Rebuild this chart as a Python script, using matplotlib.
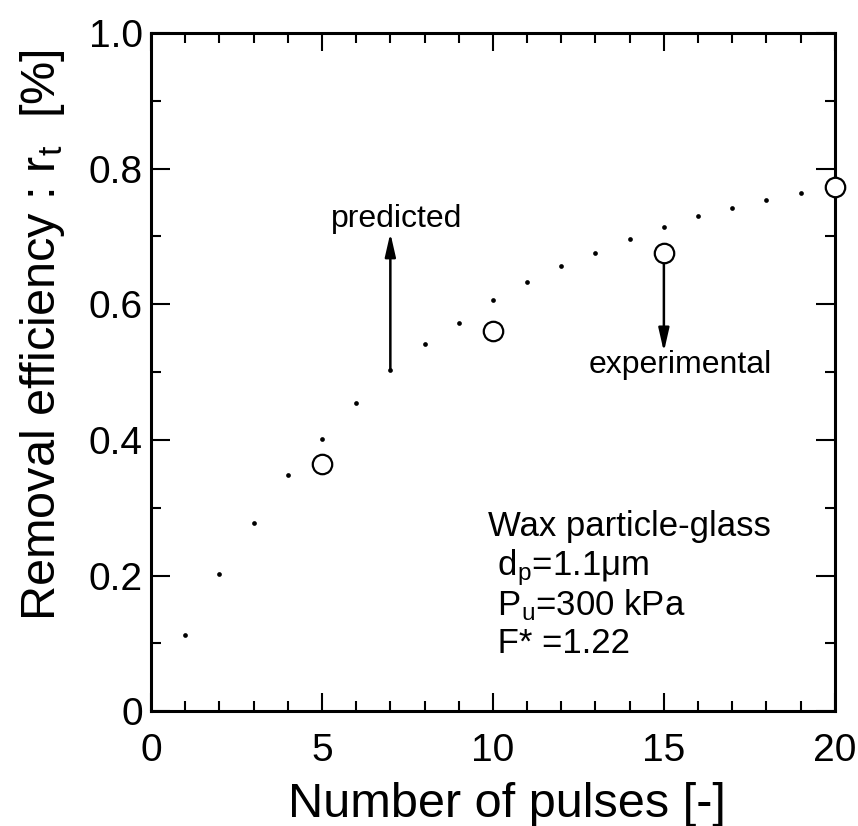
import matplotlib
matplotlib.use("Agg")
import matplotlib.pyplot as plt
from matplotlib.ticker import MultipleLocator

plt.rcParams['font.family'] = ['Liberation Sans', 'DejaVu Sans']
plt.rcParams['mathtext.default'] = 'regular'

# Data
pred_x = list(range(1, 20))
pred_y = [0.112, 0.203, 0.278, 0.348, 0.402, 0.455, 0.503, 0.542, 0.573, 0.606,
          0.633, 0.657, 0.676, 0.696, 0.714, 0.730, 0.742, 0.754, 0.764]
exp_x = [5, 10, 15, 20]
exp_y = [0.364, 0.561, 0.676, 0.773]

xlabel = "Number of pulses [-]"
ylabel = "Removal efficiency : r$_t$  [%]"
info_lines = ["Wax particle-glass", " d$_p$=1.1\u03bcm", " P$_u$=300 kPa", " F* =1.22"]

fig = plt.figure(figsize=(8.58, 8.26), dpi=100)
ax = fig.add_axes([0.176, 0.139, 0.797, 0.821])

ax.plot(pred_x, pred_y, linestyle='none', marker='o', markersize=3.4,
        color='black', markeredgewidth=0)
ax.plot(exp_x, exp_y, linestyle='none', marker='o', markersize=14,
        markerfacecolor='white', markeredgecolor='black', markeredgewidth=1.6,
        clip_on=False, zorder=5)

ax.set_xlim(0, 20)
ax.set_ylim(0, 1.0)
ax.xaxis.set_major_locator(MultipleLocator(5))
ax.xaxis.set_minor_locator(MultipleLocator(1))
ax.yaxis.set_minor_locator(MultipleLocator(0.1))
ax.set_yticks([0, 0.2, 0.4, 0.6, 0.8, 1.0])
ax.set_yticklabels(['0', '0.2', '0.4', '0.6', '0.8', '1.0'])

ax.tick_params(which='both', direction='in', top=True, right=True, width=1.5,
               labelsize=28)
ax.tick_params(axis='x', which='major', length=13, pad=16)
ax.tick_params(axis='y', which='major', length=14, pad=6)
ax.tick_params(which='minor', length=7)
for s in ax.spines.values():
    s.set_linewidth(2.2)

ax.set_xlabel(xlabel, fontsize=35, va='center')
ax.xaxis.set_label_coords(0.52, -0.138)
ax.set_ylabel(ylabel, fontsize=35, va='center')
ax.yaxis.set_label_coords(-0.159, 0.555)

# Arrow annotations
ax.annotate('', xy=(7, 0.705), xytext=(7, 0.503),
            arrowprops=dict(arrowstyle='-|>,head_length=1.4,head_width=0.32',
                            color='black', lw=1.8, shrinkA=0, shrinkB=0))
ax.text(7.19, 0.714, 'predicted', fontsize=23, ha='center', va='baseline')
ax.annotate('', xy=(15, 0.530), xytext=(15, 0.663),
            arrowprops=dict(arrowstyle='-|>,head_length=1.4,head_width=0.32',
                            color='black', lw=1.8, shrinkA=0, shrinkB=0))
ax.text(15.47, 0.499, 'experimental', fontsize=23, ha='center', va='baseline')

info_x = [9.85, 9.85, 9.85, 9.85]
info_yb = [0.258, 0.200, 0.141, 0.086]
for xx, yy, t in zip(info_x, info_yb, info_lines):
    ax.text(xx, yy, t, fontsize=25, ha='left', va='baseline')

fig.savefig('out.png', dpi=100)
